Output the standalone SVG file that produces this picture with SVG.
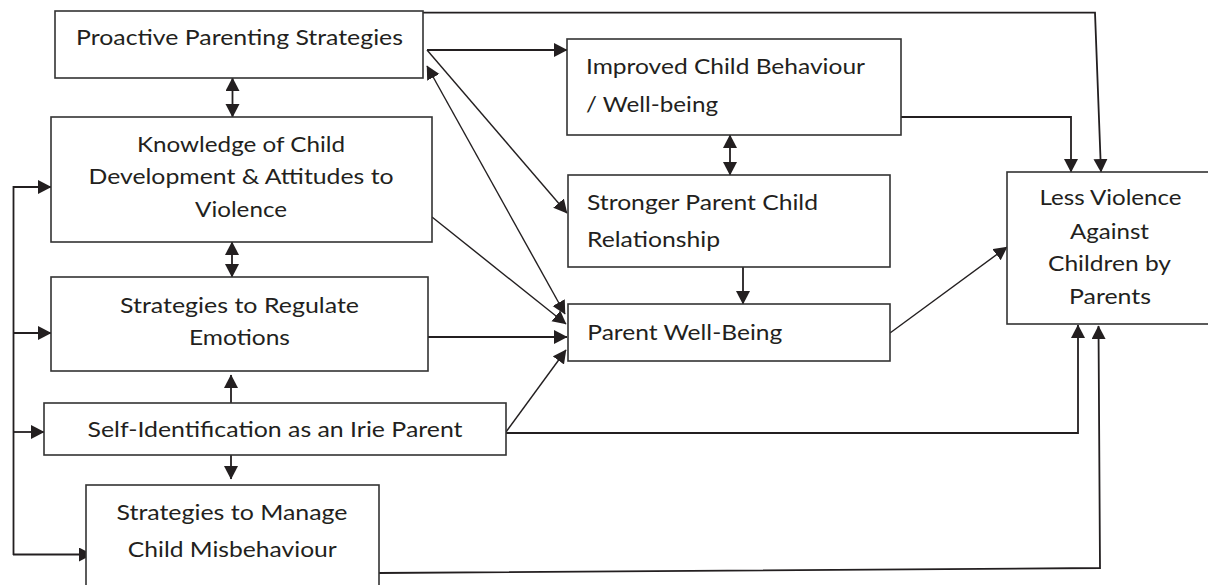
<svg xmlns="http://www.w3.org/2000/svg" width="1208" height="585" viewBox="0 0 1208 585">
  <defs>
    <marker id="head" markerUnits="userSpaceOnUse" markerWidth="14" markerHeight="15" refX="13" refY="7" orient="auto-start-reverse" viewBox="0 0 14 15">
      <path d="M0,0 L13.5,7 L0,14 z" fill="#231f20"/>
    </marker>
  </defs>
  <style>
    .box { fill: #ffffff; stroke: #333333; stroke-width: 1.6; }
    .lbl { font-family: Lato, "Open Sans", "Liberation Sans", sans-serif; font-size: 21px; fill: #231f20; }
    .mid { text-anchor: middle; }
    .wire { fill: none; stroke: #231f20; stroke-width: 1.8; }
    .thin { fill: none; stroke: #231f20; stroke-width: 1.4; }
    .to { marker-end: url(#head); }
    .both { marker-start: url(#head); marker-end: url(#head); }
  </style>
  <rect width="1208" height="585" fill="#ffffff"/>

  <!-- connectors -->
  <g id="connectors">
    <!-- feedback bus on the left -->
    <path class="wire" d="M13.5,186 V555"/>
    <path class="wire to" d="M13,187 H51"/>
    <path class="wire to" d="M13,333 H51"/>
    <path class="wire to" d="M13,432 H44"/>
    <path class="wire to" d="M13,554.5 H92"/>

    <!-- vertical links in the left column -->
    <path class="wire both" d="M232.5,78 V117"/>
    <path class="wire both" d="M232,242 V277"/>
    <path class="wire to" d="M231,403 V375"/>
    <path class="wire to" d="M231,455 V479"/>

    <!-- proactive strategies outputs -->
    <path class="wire to" d="M423,12.7 H1095 L1101,172"/>
    <path class="wire to" d="M427,50 H567"/>
    <path class="thin to" d="M427,50 L567,213"/>
    <path class="thin both" d="M427,66 L565,314"/>

    <!-- inputs to parent well-being -->
    <path class="thin to" d="M432,217 L566,324"/>
    <path class="wire to" d="M426,337 H567"/>
    <path class="thin to" d="M506,432 L566,350"/>

    <!-- middle column -->
    <path class="wire both" d="M730,135 V175"/>
    <path class="wire to" d="M743,267 V304"/>

    <!-- outcomes -->
    <path class="wire to" d="M901,117 H1071 V172"/>
    <path class="thin to" d="M890,333 L1007,247"/>
    <path class="wire to" d="M506,433 H1078 V325"/>
    <path class="wire to" d="M379,573 L1100,568 L1098.5,326"/>
  </g>

  <!-- nodes -->
  <g id="proactive">
    <rect class="box" x="55" y="11" width="368" height="67"/>
    <text class="lbl mid" x="239.5" y="45" textLength="327" lengthAdjust="spacingAndGlyphs">Proactive Parenting Strategies</text>
  </g>

  <g id="knowledge">
    <rect class="box" x="51" y="117" width="381" height="125"/>
    <text class="lbl mid" x="241" y="151.7" textLength="208" lengthAdjust="spacingAndGlyphs">Knowledge of Child</text>
    <text class="lbl mid" x="241" y="184" textLength="305" lengthAdjust="spacingAndGlyphs">Development &amp; Attitudes to</text>
    <text class="lbl mid" x="241" y="216.7" textLength="92" lengthAdjust="spacingAndGlyphs">Violence</text>
  </g>

  <g id="regulate">
    <rect class="box" x="51" y="277" width="377" height="94"/>
    <text class="lbl mid" x="239.5" y="313" textLength="239" lengthAdjust="spacingAndGlyphs">Strategies to Regulate</text>
    <text class="lbl mid" x="239.5" y="345" textLength="101" lengthAdjust="spacingAndGlyphs">Emotions</text>
  </g>

  <g id="self-identification">
    <rect class="box" x="44" y="403" width="462" height="52"/>
    <text class="lbl mid" x="275" y="437" textLength="375" lengthAdjust="spacingAndGlyphs">Self-Identification as an Irie Parent</text>
  </g>

  <g id="manage">
    <rect class="box" x="86" y="485" width="293" height="120"/>
    <text class="lbl mid" x="232" y="520" textLength="231" lengthAdjust="spacingAndGlyphs">Strategies to Manage</text>
    <text class="lbl mid" x="232.3" y="557" textLength="209" lengthAdjust="spacingAndGlyphs">Child Misbehaviour</text>
  </g>

  <g id="improved">
    <rect class="box" x="567" y="39" width="334" height="96"/>
    <text class="lbl" x="586" y="74" textLength="279" lengthAdjust="spacingAndGlyphs">Improved Child Behaviour</text>
    <text class="lbl" x="586" y="112" textLength="132" lengthAdjust="spacingAndGlyphs">/ Well-being</text>
  </g>

  <g id="stronger">
    <rect class="box" x="568" y="175" width="322" height="92"/>
    <text class="lbl" x="587" y="210" textLength="231" lengthAdjust="spacingAndGlyphs">Stronger Parent Child</text>
    <text class="lbl" x="587" y="247" textLength="133" lengthAdjust="spacingAndGlyphs">Relationship</text>
  </g>

  <g id="parent-wellbeing">
    <rect class="box" x="568" y="304" width="322" height="57"/>
    <text class="lbl" x="587.3" y="339.5" textLength="195" lengthAdjust="spacingAndGlyphs">Parent Well-Being</text>
  </g>

  <g id="less-violence">
    <rect class="box" x="1007" y="172" width="204" height="152"/>
    <text class="lbl mid" x="1110.5" y="205" textLength="142" lengthAdjust="spacingAndGlyphs">Less Violence</text>
    <text class="lbl mid" x="1109.5" y="238.5" textLength="79" lengthAdjust="spacingAndGlyphs">Against</text>
    <text class="lbl mid" x="1109.5" y="270.5" textLength="123" lengthAdjust="spacingAndGlyphs">Children by</text>
    <text class="lbl mid" x="1110" y="304" textLength="82" lengthAdjust="spacingAndGlyphs">Parents</text>
  </g>
</svg>
